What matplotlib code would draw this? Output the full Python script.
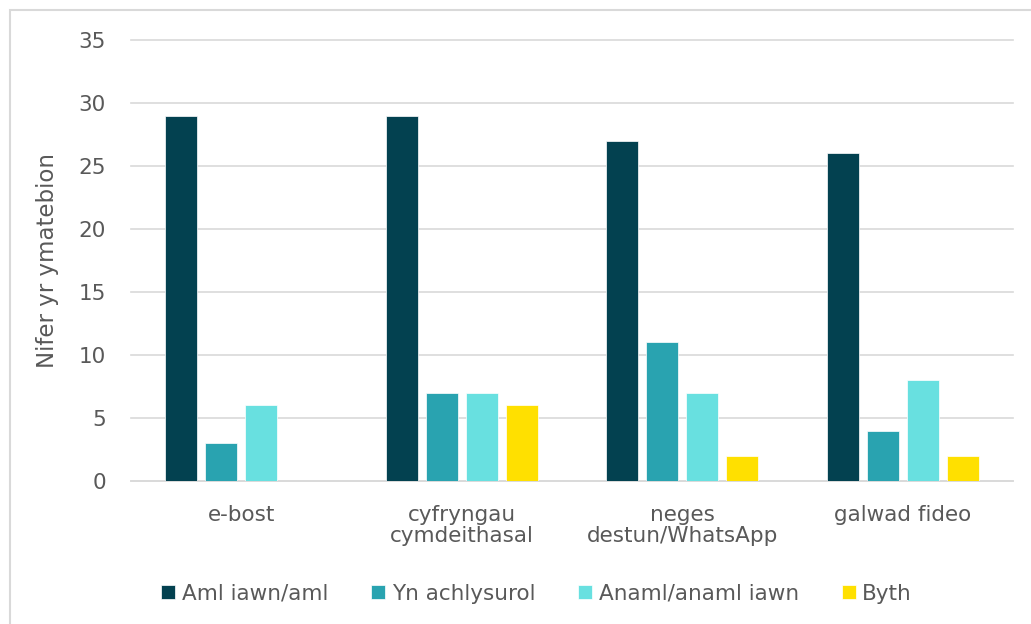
import numpy as np
import matplotlib
matplotlib.use("Agg")
import matplotlib.pyplot as plt
from matplotlib.patches import Rectangle

categories = ["e-bost", "cyfryngau\ncymdeithasal", "neges\ndestun/WhatsApp", "galwad fideo"]
series_names = ["Aml iawn/aml", "Yn achlysurol", "Anaml/anaml iawn", "Byth"]
aml = [29, 29, 27, 26]
achlysurol = [3, 7, 11, 4]
anaml = [6, 7, 7, 8]
byth = [0, 6, 2, 2]
colors = ["#034150", "#29a3b0", "#68e0e0", "#ffe000"]

text_col = "#595959"
plt.rcParams['font.family'] = ['DejaVu Sans']
fs = 15.5

fig = plt.figure(figsize=(10.31, 6.24), dpi=100)
fig.patch.set_facecolor("white")
# light chart-area border (only top and left fall inside the picture)
fig.add_artist(Rectangle((10 / 1031, -0.1), 1.5, 1 - 10 / 624 + 0.1,
                         transform=fig.transFigure, fill=False,
                         edgecolor="#d9d9d9", linewidth=1.5))

ax = fig.add_axes([0.127, 0.229, 0.8555, 0.707])
x = np.arange(len(categories))
pitch = 0.181
width = 0.145
data = [aml, achlysurol, anaml, byth]
for i, (vals, name, c) in enumerate(zip(data, series_names, colors)):
    ax.bar(x + (i - 1.5) * pitch, vals, width, color=c, label=name,
           edgecolor="white", linewidth=0.5, zorder=3)

ax.set_xlim(-0.5, len(categories) - 0.5)
ax.set_ylim(0, 35)
ax.set_yticks(range(0, 36, 5))
ax.grid(axis="y", color="#d9d9d9", linewidth=1.2, zorder=0)
for gl in ax.get_ygridlines():
    gl.set_clip_on(False)
for s in ["top", "right", "left"]:
    ax.spines[s].set_visible(False)
ax.spines["bottom"].set_color("#d9d9d9")
ax.spines["bottom"].set_linewidth(1.2)
ax.tick_params(axis="both", length=0, labelsize=fs, colors=text_col)
ax.tick_params(axis="y", pad=18)
ax.tick_params(axis="x", pad=17)
ax.set_xticks(x)
ax.set_xticklabels(categories, linespacing=1.05)
ax.set_ylabel("Nifer yr ymatebion", fontsize=fs + 1, color=text_col, labelpad=14)

ax.legend(loc="center", bbox_to_anchor=(0.46, -0.255), ncol=4, frameon=False,
          fontsize=fs, labelcolor=text_col, handlelength=0.65, handleheight=0.65,
          handletextpad=0.3, columnspacing=2.0)

fig.savefig("out.png", dpi=100)
